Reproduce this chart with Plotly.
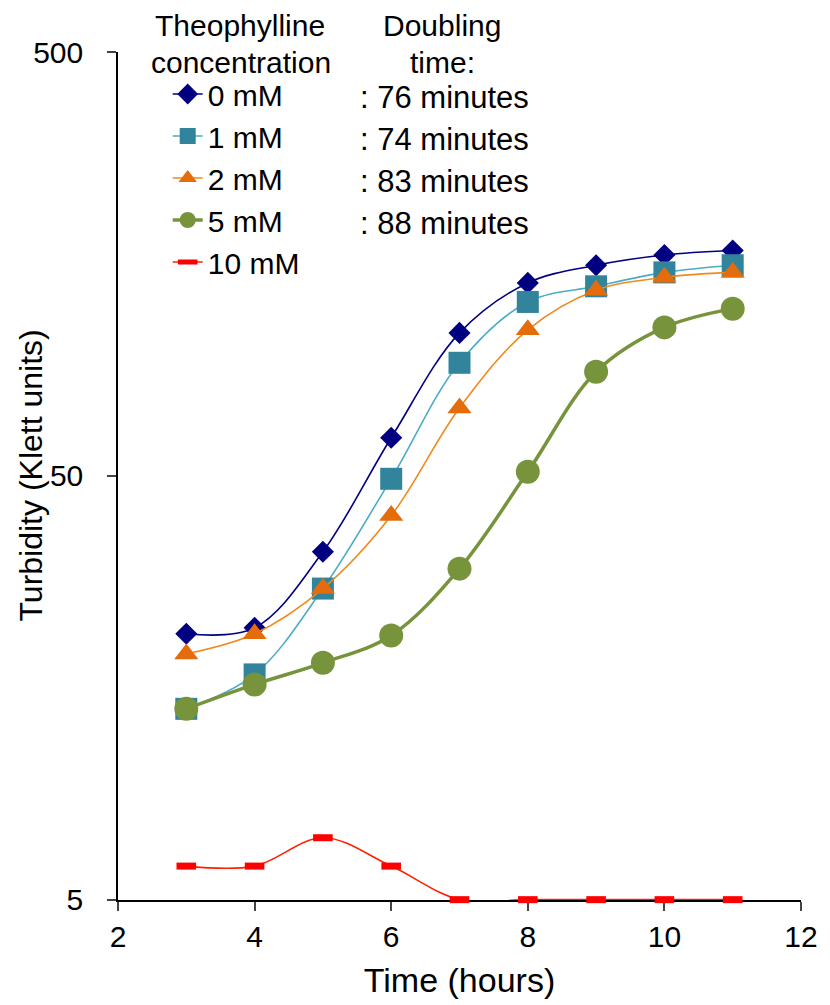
import math
import plotly.graph_objects as go

# ---------------- data ----------------
time_hours = [3, 4, 5, 6, 7, 8, 9, 10, 11]
turb_0mM = [21.2, 21.9, 33.1, 61.5, 108.7, 142.6, 157, 166, 170]
turb_1mM = [14.1, 17.0, 27.1, 49.2, 92.4, 128.6, 140, 151, 157]
turb_2mM = [19.0, 21.2, 27.1, 40.3, 72.3, 110.5, 137, 147, 151]
turb_5mM = [14.1, 16.1, 18.1, 21.0, 30.2, 51.1, 88, 112, 124]
turb_10mM = [6.0, 6.0, 7.0, 6.0, 5.0, 5.0, 5.0, 5.0, 5.0]

series_labels = ["0 mM", "1 mM", "2 mM", "5 mM", "10 mM"]
doubling_labels = [": 76 minutes", ": 74 minutes", ": 83 minutes", ": 88 minutes"]
x_ticks = [2, 4, 6, 8, 10, 12]
y_ticks = [5, 50, 500]

FONT = "Liberation Sans, Arial, sans-serif"
W, H = 830, 1005
L, R, T, B = 118, 25, 52, 105
PW, PH = W - L - R, H - T - B


def px_to_paper(px, py):
    return (px - L) / PW, (H - B - py) / PH


styles = [
    dict(marker=dict(symbol="diamond", size=17, color="#000080"),
         line=dict(color="#000080", width=1.6)),
    dict(marker=dict(symbol="square", size=22, color="#31849B"),
         line=dict(color="#4BACC6", width=1.6)),
    dict(marker=dict(symbol="triangle-up", size=21, color="#E46C0A"),
         line=dict(color="#F08A1C", width=1.6)),
    dict(marker=dict(symbol="circle", size=24, color="#77933C"),
         line=dict(color="#77933C", width=3.5)),
    dict(marker=dict(symbol="line-ew", size=14, color="#FF0000",
                     line=dict(color="#FF0000", width=7)),
         line=dict(color="#FF2000", width=1.6)),
]

all_series = [turb_0mM, turb_1mM, turb_2mM, turb_5mM, turb_10mM]

fig = go.Figure()
for name, ys, st in zip(series_labels, all_series, styles):
    fig.add_trace(go.Scatter(
        x=time_hours, y=ys, name=name, mode="lines+markers",
        line=dict(shape="spline", smoothing=1, **st["line"]),
        marker=st["marker"], cliponaxis=False, legendgroup=name,
    ))

annotations = []
for txt, (px, py) in [("Theophylline", (241, 25)), ("concentration", (242, 62)),
                      ("Doubling", (444, 25)), ("time:", (444, 62))]:
    xp, yp = px_to_paper(px, py)
    annotations.append(dict(x=xp, y=yp, xref="paper", yref="paper", text=txt,
                            showarrow=False, xanchor="center", yanchor="middle",
                            font=dict(size=30, color="black", family=FONT)))
for i, txt in enumerate(doubling_labels):
    xp, yp = px_to_paper(359, 97 + 42 * i)
    annotations.append(dict(x=xp, y=yp, xref="paper", yref="paper", text=txt,
                            showarrow=False, xanchor="left", yanchor="middle",
                            font=dict(size=31, color="black", family=FONT)))
# y-axis title as rotated annotation
xp, yp = px_to_paper(30, 476)
annotations.append(dict(x=xp, y=yp, xref="paper", yref="paper",
                        text="Turbidity (Klett units)", textangle=-90,
                        showarrow=False, xanchor="center", yanchor="middle",
                        font=dict(size=32, color="black", family=FONT)))

lx, ly = px_to_paper(168, 68)
fig.update_layout(
    width=W, height=H,
    margin=dict(l=L, r=R, t=T, b=B),
    paper_bgcolor="white", plot_bgcolor="white",
    font=dict(family=FONT, color="black", size=29),
    showlegend=True,
    legend=dict(x=lx, y=ly, xanchor="left", yanchor="top",
                bgcolor="rgba(0,0,0,0)",
                font=dict(size=30, family=FONT), tracegroupgap=0,
                itemwidth=30),
    annotations=annotations,
    xaxis=dict(range=[2, 12], tickvals=x_ticks, ticks="outside", ticklen=9,
               tickwidth=1.5, showline=True, linecolor="black", linewidth=1.5,
               showgrid=False, zeroline=False, tickfont=dict(size=30),
               layer="below traces",
               title=dict(text="Time (hours)", font=dict(size=34), standoff=16)),
    yaxis=dict(type="log", range=[math.log10(5) - 0.0008, math.log10(500)],
               tickvals=y_ticks, ticktext=[str(v) for v in y_ticks],
               ticks="outside", ticklen=9, tickwidth=1.5, showline=True,
               linecolor="black", linewidth=1.5, showgrid=False, zeroline=False,
               tickfont=dict(size=30), ticklabelstandoff=18,
               layer="below traces"),
)

fig.write_html("out.html")
